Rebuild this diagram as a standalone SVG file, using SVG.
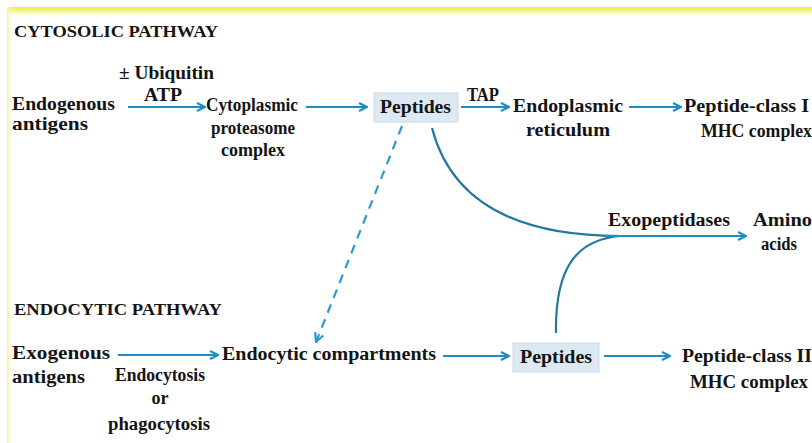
<svg xmlns="http://www.w3.org/2000/svg" width="812" height="443" viewBox="0 0 812 443">
<defs>
<linearGradient id="gTop" x1="0" y1="0" x2="0" y2="1">
<stop offset="0" stop-color="#eaf03c"/>
<stop offset="0.5" stop-color="#f4f7a0"/>
<stop offset="1" stop-color="#ffffff" stop-opacity="0"/>
</linearGradient>
<linearGradient id="gLeft" x1="0" y1="0" x2="1" y2="0">
<stop offset="0" stop-color="#f3f38a"/>
<stop offset="1" stop-color="#ffffff" stop-opacity="0"/>
</linearGradient>
<marker id="ah" viewBox="0 0 10 10" refX="9" refY="5" markerWidth="10" markerHeight="10" markerUnits="userSpaceOnUse" orient="auto">
<path d="M1,1 L9,5 L1,9" fill="none" stroke="#1f8cc4" stroke-width="2.2"/>
</marker>
<marker id="ahd" viewBox="0 0 10 10" refX="9" refY="5" markerWidth="11" markerHeight="11" markerUnits="userSpaceOnUse" orient="auto">
<path d="M1,1 L9,5 L1,9" fill="none" stroke="#2a9ad0" stroke-width="2"/>
</marker>
</defs>
<style>
text{font-family:"Liberation Serif","Times New Roman",serif;font-weight:bold;font-size:18px;fill:#141414}
.h{font-size:16px}
.c{text-anchor:middle}
.arr{fill:none;stroke:#1f8cc4;stroke-width:2.2;marker-end:url(#ah)}
.crv{fill:none;stroke:#23789e;stroke-width:2.2}
.dash{fill:none;stroke:#2a9ad0;stroke-width:2.2;stroke-dasharray:9 7;marker-end:url(#ahd)}
.box{fill:#dce8f2;stroke:#cadbe8;stroke-width:1}
</style>
<rect width="812" height="443" fill="#ffffff"/>
<rect x="7" y="7" width="805" height="10" fill="url(#gTop)"/>
<rect x="7" y="7" width="6" height="436" fill="url(#gLeft)"/>

<text class="h" x="14" y="37" textLength="204" lengthAdjust="spacingAndGlyphs">CYTOSOLIC PATHWAY</text>
<text class="h" x="14" y="315" textLength="208" lengthAdjust="spacingAndGlyphs">ENDOCYTIC PATHWAY</text>

<g id="connectors">
<line class="arr" x1="128" y1="107" x2="205" y2="107"/>
<line class="arr" x1="306" y1="107" x2="367" y2="107"/>
<line class="arr" x1="461" y1="107" x2="509" y2="107"/>
<line class="arr" x1="629" y1="107" x2="681" y2="107"/>
<line class="dash" x1="402" y1="126" x2="316" y2="342"/>
<path class="crv" d="M432,128 C452,205 520,236 620,236"/>
<path class="crv" d="M556,333 C555,268 576,240 620,236"/>
<line class="arr" x1="605" y1="236" x2="746" y2="236"/>
<line class="arr" x1="118" y1="355" x2="218" y2="355"/>
<line class="arr" x1="443" y1="356" x2="509" y2="356"/>
<line class="arr" x1="604" y1="356" x2="670" y2="356"/>
</g>

<g id="label-ubiquitin">
<text x="119" y="79" textLength="95" lengthAdjust="spacingAndGlyphs">± Ubiquitin</text>
<text x="144" y="101" textLength="38" lengthAdjust="spacingAndGlyphs">ATP</text>
</g>
<g id="label-tap"><text x="467" y="101" textLength="32" lengthAdjust="spacingAndGlyphs">TAP</text></g>

<g id="endogenous">
<text x="12" y="110" textLength="103" lengthAdjust="spacingAndGlyphs">Endogenous</text>
<text x="12" y="130" textLength="76" lengthAdjust="spacingAndGlyphs">antigens</text>
</g>
<g id="proteasome">
<text x="206" y="111" textLength="92" lengthAdjust="spacingAndGlyphs">Cytoplasmic</text>
<text x="211" y="134" textLength="84" lengthAdjust="spacingAndGlyphs">proteasome</text>
<text x="221" y="156" textLength="64" lengthAdjust="spacingAndGlyphs">complex</text>
</g>
<g id="peptides-1">
<rect class="box" x="374" y="93" width="84" height="29"/>
<text x="380" y="113" textLength="71" lengthAdjust="spacingAndGlyphs">Peptides</text>
</g>
<g id="er">
<text x="513" y="112" textLength="110" lengthAdjust="spacingAndGlyphs">Endoplasmic</text>
<text x="526" y="136" textLength="84" lengthAdjust="spacingAndGlyphs">reticulum</text>
</g>
<g id="mhc1">
<text x="684" y="112" textLength="125" lengthAdjust="spacingAndGlyphs">Peptide-class I</text>
<text x="701" y="137" textLength="111" lengthAdjust="spacingAndGlyphs">MHC complex</text>
</g>
<g id="exopeptidases">
<text x="608" y="226" textLength="122" lengthAdjust="spacingAndGlyphs">Exopeptidases</text>
</g>
<g id="amino-acids">
<text x="753" y="226" textLength="59" lengthAdjust="spacingAndGlyphs">Amino</text>
<text x="761" y="250" textLength="36" lengthAdjust="spacingAndGlyphs">acids</text>
</g>
<g id="exogenous">
<text x="12" y="359" textLength="98" lengthAdjust="spacingAndGlyphs">Exogenous</text>
<text x="12" y="383" textLength="73" lengthAdjust="spacingAndGlyphs">antigens</text>
</g>
<g id="label-endocytosis">
<text x="115" y="381" textLength="90" lengthAdjust="spacingAndGlyphs">Endocytosis</text>
<text class="c" x="160" y="404">or</text>
<text x="108" y="430" textLength="102" lengthAdjust="spacingAndGlyphs">phagocytosis</text>
</g>
<g id="endocytic-compartments">
<text x="222" y="360" textLength="214" lengthAdjust="spacingAndGlyphs">Endocytic compartments</text>
</g>
<g id="peptides-2">
<rect class="box" x="513" y="343" width="86" height="29"/>
<text x="520" y="363" textLength="72" lengthAdjust="spacingAndGlyphs">Peptides</text>
</g>
<g id="mhc2">
<text x="682" y="362" textLength="130" lengthAdjust="spacingAndGlyphs">Peptide-class II</text>
<text x="690" y="388" textLength="118" lengthAdjust="spacingAndGlyphs">MHC complex</text>
</g>
</svg>
